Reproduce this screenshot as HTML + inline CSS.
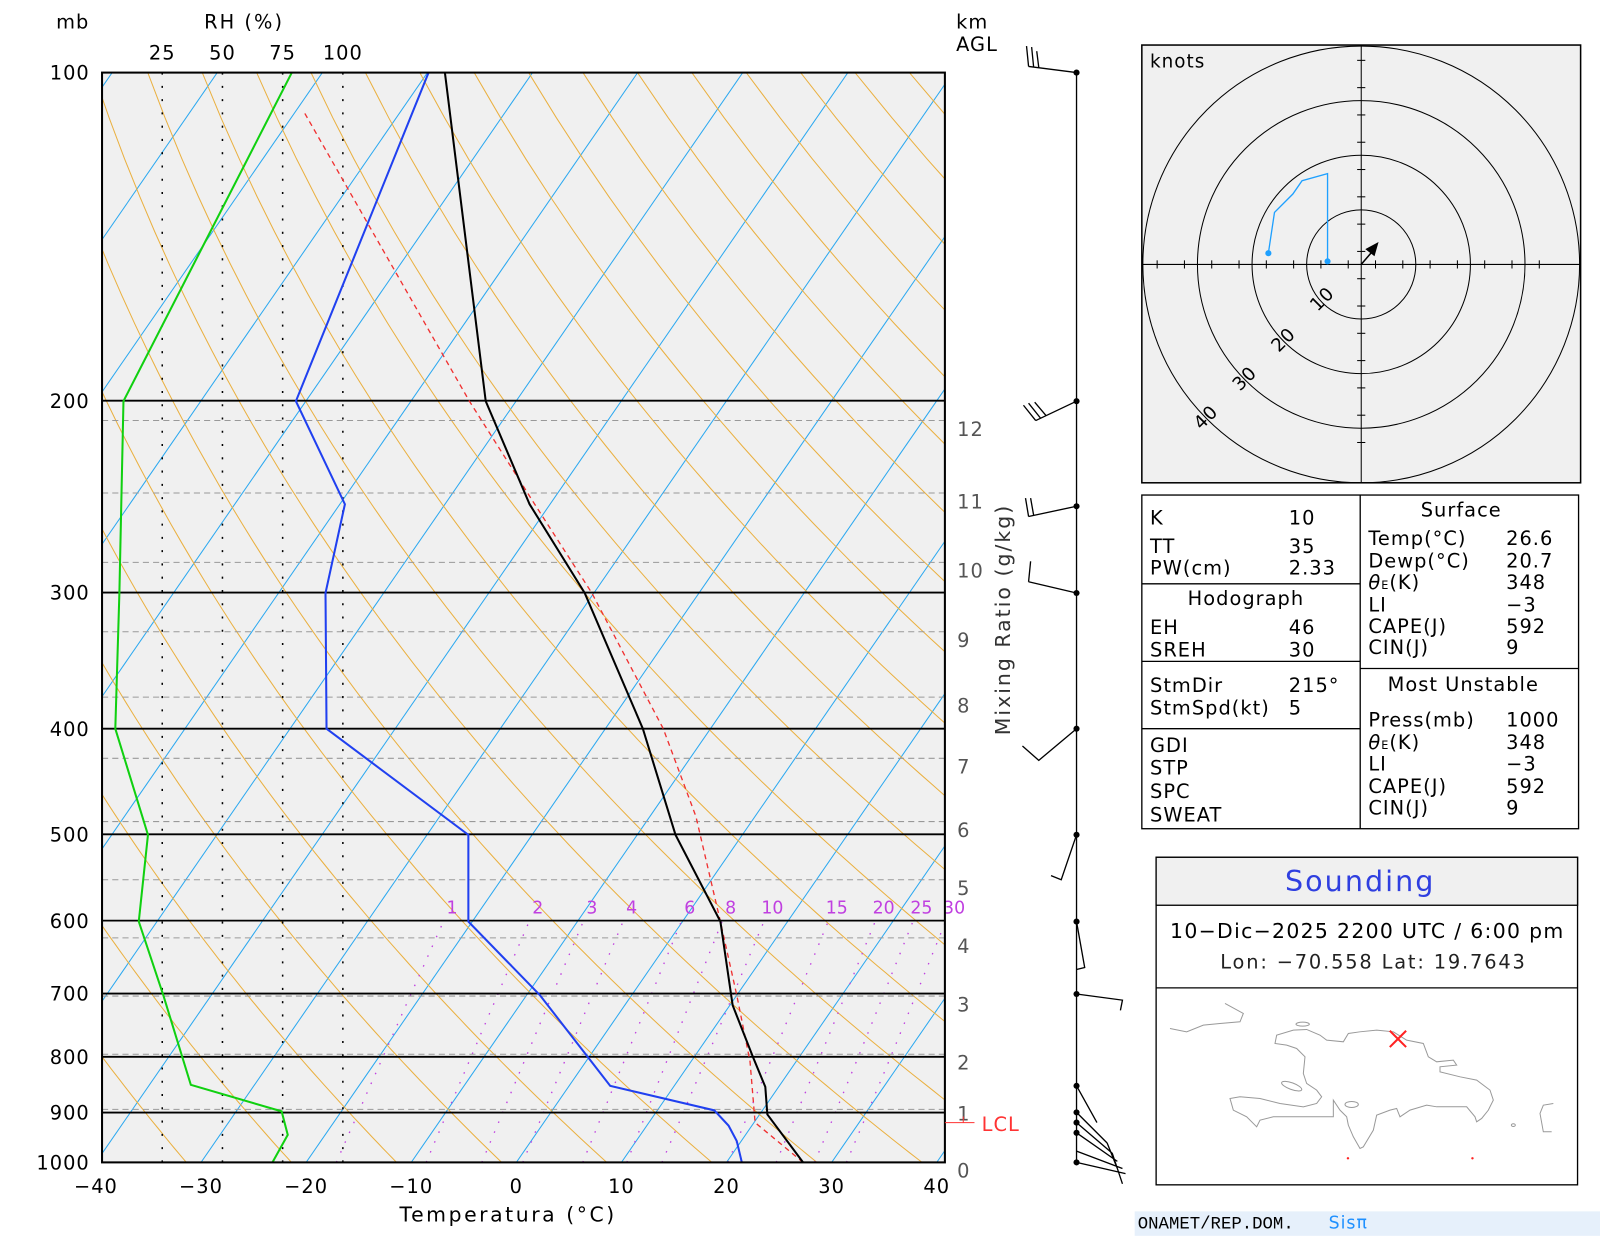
<!DOCTYPE html>
<html><head><meta charset="utf-8"><style>
html,body{margin:0;padding:0;background:#fff;}
svg{display:block;font-family:"DejaVu Sans","Liberation Sans",sans-serif;}
</style></head><body>
<svg id="s" width="1600" height="1236" viewBox="0 0 1568 1211" xmlns="http://www.w3.org/2000/svg" xml:space="preserve">
<defs><clipPath id="cp"><rect x="100" y="71" width="826" height="1068"/></clipPath></defs>
<rect x="0" y="0" width="1568" height="1211" fill="#fff"/>
<rect x="100" y="71" width="826" height="1068" fill="#f0f0f0"/>
<g id="bg" clip-path="url(#cp)"></g>
<g id="fg"></g>
<rect x="100" y="71" width="826" height="1068" fill="none" stroke="#000" stroke-width="2"/>
<g font-size="19" fill="#000" letter-spacing="1">
<text x="55" y="28">mb</text>
<text x="200" y="28" letter-spacing="2">RH  (%)</text>
<text x="159" y="58" text-anchor="middle">25</text>
<text x="218" y="58" text-anchor="middle">50</text>
<text x="277" y="58" text-anchor="middle">75</text>
<text x="336" y="58" text-anchor="middle">100</text>
<text x="937" y="28">km</text>
<text x="937" y="50">AGL</text>
<text x="498" y="1197" text-anchor="middle" font-size="20" letter-spacing="2.5">Temperatura (°C)</text>
<text transform="translate(990,607) rotate(-90)" text-anchor="middle" font-size="20" fill="#333" letter-spacing="2">Mixing Ratio  (g/kg)</text>
</g>
<g id="tx" font-size="19" fill="#000" letter-spacing="1"></g>
<line x1="926" y1="1100" x2="955" y2="1100" stroke="#f33" stroke-width="1"/>
<line x1="944" y1="1094" x2="944" y2="1100" stroke="#f33" stroke-width="1"/>
<text x="962" y="1108" fill="#f33" font-size="19" letter-spacing="1">LCL</text>
<g stroke="#000" stroke-width="1.3" fill="none">
<line x1="1055" y1="71" x2="1055" y2="1139"/>
<path d="M1055,71 L1008,65 M1008,65 L1006,45 M1013,66 L1011,46 M1018,66 L1016,50"/>
<path d="M1055,393 L1015,412 M1015,412 L1003,397 M1020,410 L1008,395 M1025,407 L1014,394"/>
<path d="M1055,496 L1008,506 M1008,506 L1005,488 M1013,505 L1010,488"/>
<path d="M1055,581 L1008,570 M1008,570 L1010,550"/>
<path d="M1055,714 L1018,745 L1002,731"/>
<path d="M1055,818 L1040,862 L1030,858"/>
<path d="M1055,903 L1063,948 L1055,950"/>
<path d="M1055,974 L1100,980 L1098,990"/>
<path d="M1055,1064 L1075,1100 M1055,1090 L1085,1120 M1055,1100 L1090,1130 M1055,1110 L1095,1138 M1055,1128 L1100,1145 M1055,1139 L1103,1150 M1085,1120 L1095,1145 M1090,1130 L1100,1160"/>
</g>
<g fill="#000">
<circle cx="1055" cy="71" r="3"/><circle cx="1055" cy="393" r="3"/><circle cx="1055" cy="496" r="3"/><circle cx="1055" cy="581" r="3"/><circle cx="1055" cy="714" r="3"/><circle cx="1055" cy="818" r="3"/><circle cx="1055" cy="903" r="3"/><circle cx="1055" cy="974" r="3"/><circle cx="1055" cy="1064" r="3"/><circle cx="1055" cy="1090" r="3"/><circle cx="1055" cy="1100" r="3"/><circle cx="1055" cy="1110" r="3"/><circle cx="1055" cy="1139" r="3"/>
</g>
<rect x="1119" y="44" width="430" height="429" fill="#f0f0f0" stroke="#000" stroke-width="1.5"/>
<g stroke="#000" stroke-width="1" fill="none">
<circle cx="1334" cy="259" r="53.5"/><circle cx="1334" cy="259" r="107"/><circle cx="1334" cy="259" r="160.5"/><circle cx="1334" cy="259" r="214"/>
<line x1="1119" y1="259" x2="1549" y2="259"/><line x1="1334" y1="44" x2="1334" y2="473"/>
<g id="ticks"></g>
</g>
<g font-size="18" fill="#000" letter-spacing="1">
<text x="1127" y="66">knots</text>
<text transform="translate(1300,297) rotate(-45)" text-anchor="middle">10</text>
<text transform="translate(1262,337) rotate(-45)" text-anchor="middle">20</text>
<text transform="translate(1224,375) rotate(-45)" text-anchor="middle">30</text>
<text transform="translate(1186,413) rotate(-45)" text-anchor="middle">40</text>
</g>
<polyline points="1243,248 1249,208 1267,190 1276,177 1301,170 1301,256" fill="none" stroke="#1ea0ff" stroke-width="1.3"/>
<circle cx="1243" cy="248" r="3" fill="#1ea0ff"/><circle cx="1301" cy="256" r="3" fill="#1ea0ff"/>
<line x1="1334" y1="259" x2="1346" y2="245" stroke="#000" stroke-width="1.5"/>
<polygon points="1351,237 1338,244 1347,251" fill="#000"/>
<rect x="1119" y="485" width="428" height="327" fill="#fff" stroke="#000" stroke-width="1.3"/>
<g stroke="#000" stroke-width="1.3">
<line x1="1333" y1="485" x2="1333" y2="812"/>
<line x1="1119" y1="572" x2="1333" y2="572"/><line x1="1119" y1="648" x2="1333" y2="648"/><line x1="1119" y1="714" x2="1333" y2="714"/>
<line x1="1333" y1="655" x2="1547" y2="655"/>
</g>
<g font-size="19" fill="#000" letter-spacing="1">
<text x="1127" y="514">K</text><text x="1263" y="514">10</text>
<text x="1127" y="542">TT</text><text x="1263" y="542">35</text>
<text x="1127" y="563">PW(cm)</text><text x="1263" y="563">2.33</text>
<text x="1221" y="593" text-anchor="middle">Hodograph</text>
<text x="1127" y="621">EH</text><text x="1263" y="621">46</text>
<text x="1127" y="643">SREH</text><text x="1263" y="643">30</text>
<text x="1127" y="678">StmDir</text><text x="1263" y="678">215°</text>
<text x="1127" y="700">StmSpd(kt)</text><text x="1263" y="700">5</text>
<text x="1127" y="737">GDI</text><text x="1127" y="759">STP</text><text x="1127" y="782">SPC</text><text x="1127" y="805">SWEAT</text>
<text x="1432" y="506" text-anchor="middle">Surface</text>
<text x="1341" y="534">Temp(°C)</text><text x="1476" y="534">26.6</text>
<text x="1341" y="556">Dewp(°C)</text><text x="1476" y="556">20.7</text>
<text x="1341" y="577"><tspan font-style="italic">θ</tspan><tspan font-size="11">E</tspan>(K)</text><text x="1476" y="577">348</text>
<text x="1341" y="599">LI</text><text x="1476" y="599">−3</text>
<text x="1341" y="620">CAPE(J)</text><text x="1476" y="620">592</text>
<text x="1341" y="641">CIN(J)</text><text x="1476" y="641">9</text>
<text x="1434" y="677" text-anchor="middle">Most Unstable</text>
<text x="1341" y="712">Press(mb)</text><text x="1476" y="712">1000</text>
<text x="1341" y="734"><tspan font-style="italic">θ</tspan><tspan font-size="11">E</tspan>(K)</text><text x="1476" y="734">348</text>
<text x="1341" y="755">LI</text><text x="1476" y="755">−3</text>
<text x="1341" y="777">CAPE(J)</text><text x="1476" y="777">592</text>
<text x="1341" y="798">CIN(J)</text><text x="1476" y="798">9</text>
</g>
<rect x="1133" y="840" width="413" height="321" fill="#fff" stroke="#000" stroke-width="1.3"/>
<rect x="1133" y="840" width="413" height="47" fill="#f0f0f0" stroke="#000" stroke-width="1.3"/>
<line x1="1133" y1="968" x2="1546" y2="968" stroke="#000" stroke-width="1.3"/>
<text x="1333" y="873" text-anchor="middle" font-size="28" fill="#2f3fe0" letter-spacing="2">Sounding</text>
<text x="1340" y="919" text-anchor="middle" font-size="20" letter-spacing="1.3">10−Dic−2025  2200 UTC / 6:00 pm</text>
<text x="1346" y="949" text-anchor="middle" font-size="19" fill="#222" letter-spacing="1.8">Lon: −70.558    Lat: 19.7643</text>
<g transform="scale(0.98)"><g transform="translate(1160,990) scale(0.33333)" fill="none" stroke="#999" stroke-width="3">
<polyline points="30,115 80,125 130,105 180,100 240,95 250,70 195,40"/>
<polygon points="345,160 350,135 400,120 440,118 480,135 500,150 550,155 565,130 600,125 650,120 700,125 740,150 790,160 805,200 830,215 880,210 890,225 840,230 840,245 900,260 950,270 990,300 1000,330 985,360 965,385 950,395 945,380 920,350 880,350 830,350 800,345 750,360 720,380 710,355 690,360 650,375 640,420 610,470 600,475 580,440 565,405 560,380 540,360 520,330 520,380 480,380 420,380 340,380 300,390 290,410 260,380 220,360 210,325 240,320 300,325 360,340 430,350 470,340 485,320 470,300 440,280 430,250 435,200 410,175 380,165"/>
<ellipse cx="395" cy="288" rx="32" ry="10" transform="rotate(20 395 288)"/>
<ellipse cx="575" cy="343" rx="20" ry="9"/>
<ellipse cx="428" cy="102" rx="20" ry="6"/>
<ellipse cx="1060" cy="405" rx="6" ry="4"/>
<polyline points="1180,340 1150,345 1140,370 1150,425 1175,425"/>
</g></g>
<g stroke="#f22" stroke-width="2"><line x1="1362" y1="1010" x2="1378" y2="1026"/><line x1="1378" y1="1010" x2="1362" y2="1026"/></g>
<circle cx="1321" cy="1135" r="1.2" fill="#f22"/><circle cx="1443" cy="1135" r="1.2" fill="#f22"/>
<rect x="1112" y="1187" width="456" height="24" fill="#e6f0fb"/>
<text x="1115" y="1204" font-size="17" font-family="Liberation Mono, monospace">ONAMET/REP.DOM.</text>
<text x="1302" y="1204" font-size="17" fill="#1e90ff" letter-spacing="1">Sisπ</text>
</svg>
<script>
(function(){
var NS="http://www.w3.org/2000/svg";
function el(p,t,a){var e=document.createElementNS(NS,t);for(var k in a)e.setAttribute(k,a[k]);p.appendChild(e);return e;}
var bg=document.getElementById('bg'),fg=document.getElementById('fg'),tx=document.getElementById('tx');
function yP(p){return 71+Math.log10(p/100)*1068;}
function xT(T,y){return 506+10.3*T+0.69*(1139-y);}
for(var T=-170;T<=40;T+=10){el(bg,'line',{x1:xT(T,1139),y1:1139,x2:xT(T,71),y2:71,stroke:'#2aa8f0','stroke-width':1});}
for(var th=201.75;th<=520;th+=10){var pts=[];for(var p=1000;p>=100;p-=10){var t=th*Math.pow(p/1000,0.286)-273.15;var y=yP(p);pts.push(xT(t,y).toFixed(1)+','+y.toFixed(1));}
el(bg,'polyline',{points:pts.join(' '),fill:'none',stroke:'#eab040','stroke-width':1});}
var ws=[1,2,3,4,6,8,10,15,20,25,30];
var lx=[443,527,580,619,676,716,757,820,866,903,935];
ws.forEach(function(w,i){
var e6=w*600/(622+w),l6=Math.log(e6/6.112),td6=243.5*l6/(17.67-l6);
var top=xT(td6,902)+4; var sh=lx[i]-top-4;
var pts=[];for(var p=1000;p>=600;p-=10){var e=w*p/(622+w);var l=Math.log(e/6.112);var td=243.5*l/(17.67-l);var y=yP(p);var f=(1000-p)/400;pts.push((xT(td,y)+sh*f).toFixed(1)+','+y.toFixed(1));}
el(bg,'polyline',{points:pts.join(' '),fill:'none',stroke:'#c040e0','stroke-width':1.3,'stroke-dasharray':'1.5,9'});
var t=el(fg,'text',{x:lx[i],y:895,'text-anchor':'middle','font-size':17,fill:'#c040e0'});t.textContent=w;});
var hy=[1087,1033,976,919,862,805,743,683,619,551,483,412];
hy.forEach(function(y,i){el(bg,'line',{x1:100,y1:y,x2:926,y2:y,stroke:'#999','stroke-width':1,'stroke-dasharray':'6,4'});
var t=el(tx,'text',{x:938,y:y+(i==0?11:15),fill:'#555'});t.textContent=i+1;});
var t0=el(tx,'text',{x:938,y:1154,fill:'#555'});t0.textContent='0';
[159,218,277,336].forEach(function(x){el(bg,'line',{x1:x,y1:71,x2:x,y2:1139,stroke:'#000','stroke-width':1.5,'stroke-dasharray':'2,11'});});
[100,200,300,400,500,600,700,800,900,1000].forEach(function(p){var y=yP(p);el(bg,'line',{x1:100,y1:y,x2:926,y2:y,stroke:'#000','stroke-width':1.8});
var t=el(tx,'text',{x:88,y:y+7,'text-anchor':'end'});t.textContent=p;});
for(var T=-40;T<=40;T+=10){var t=el(tx,'text',{x:506+10.3*T,y:1169,'text-anchor':'middle'});t.textContent=(T<0?'−'+(-T):T);}
el(bg,'polyline',{points:'787,1139 740,1100 735,1040 722,975 706,903 682,800 650,714 580,581 524,494 460,393 297,108',fill:'none',stroke:'#f03030','stroke-width':1.3,'stroke-dasharray':'5,4'});
el(bg,'polyline',{points:'267,1139 282,1112 276,1089 187,1063 160,975 136,903 145,818 113,714 117,581 121,393 286,71',fill:'none',stroke:'#10d010','stroke-width':2});
el(bg,'polyline',{points:'727,1139 722,1118 714,1103 700,1088 598,1064 529,975 459,903 459,818 320,714 319,581 338,494 290,393 420,71',fill:'none',stroke:'#2040f0','stroke-width':2});
el(bg,'polyline',{points:'787,1139 752,1092 750,1065 738,1036 718,985 706,903 662,818 630,714 573,581 519,494 476,393 436,71',fill:'none',stroke:'#000','stroke-width':2});
var tk=document.getElementById('ticks');
for(var r=-200;r<=200;r+=26.75){if(Math.abs(r)<1)continue;
el(tk,'line',{x1:1334+r,y1:255,x2:1334+r,y2:263});el(tk,'line',{x1:1330,y1:259+r,x2:1338,y2:259+r});}
})();
</script>
</body></html>
